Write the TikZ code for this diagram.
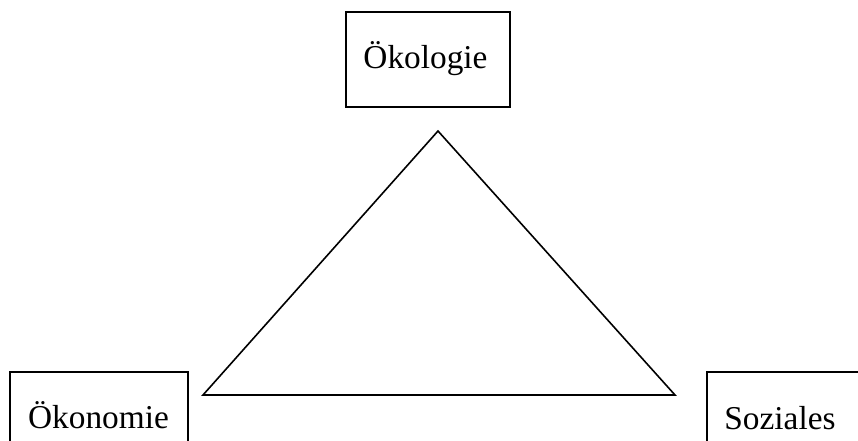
\documentclass[tikz,border=0pt]{standalone}
\usepackage{fontspec}
\setmainfont{Liberation Serif}
\begin{document}
\begin{tikzpicture}[x=0.75pt,y=-0.75pt,
  box/.style={draw,line width=1.2pt},
  lbl/.style={font=\fontsize{25}{30}\selectfont, inner sep=0pt, anchor=base},
  tri/.style={draw,line width=1.2pt,line join=miter}]
\useasboundingbox (0,0) rectangle (858,440);
\clip (0,0) rectangle (858,440);
% boxes
\draw[box] (346,12) rectangle (510,107);
\node[lbl] (oekologie) at (425.5,68) {Ökologie};
\draw[box] (10,372) rectangle (188,470);
\node[lbl] (oekonomie) at (98.5,428) {Ökonomie};
\draw[box] (707,372) rectangle (880,470);
\node[lbl] (soziales) at (780,429) {Soziales};
% triangle
\coordinate (top) at (438,131);
\coordinate (bl) at (203,395);
\coordinate (br) at (675,395);
\draw[tri] (top) -- (bl) -- (br) -- cycle;
\end{tikzpicture}
\end{document}
